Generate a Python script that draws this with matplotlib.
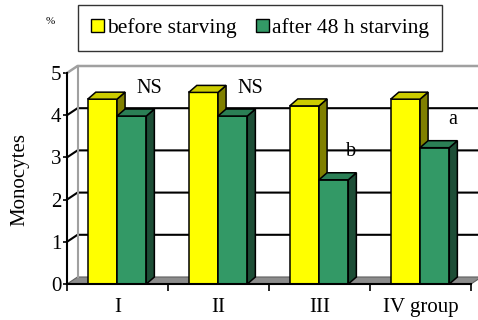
import matplotlib.pyplot as plt
from matplotlib.patches import Polygon, Patch

plt.rcParams['font.family'] = ['Liberation Serif', 'DejaVu Serif']

# group means, % monocytes
groups = ["I", "II", "III", "IV group"]
before = [4.38, 4.54, 4.22, 4.38]
after = [3.98, 3.98, 2.47, 3.23]
marks = ["NS", "NS", "b", "a"]
series = ["before starving", "after 48 h starving"]

# face colours: front, side, top
YELLOW = ("#FFFF00", "#808000", "#CCCC00")
GREEN = ("#339966", "#1D4E36", "#2B7F55")

# depth of the walls and of the bars, in data units
WX, WY = 0.104, 0.166
BX, BY = 0.080, 0.166
BW = 0.29


def bar3d(ax, x0, h, cols):
    x1 = x0 + BW
    front = Polygon([(x0, 0), (x1, 0), (x1, h), (x0, h)])
    side = Polygon([(x1, 0), (x1 + BX, BY), (x1 + BX, h + BY), (x1, h)])
    top = Polygon([(x0, h), (x1, h), (x1 + BX, h + BY), (x0 + BX, h + BY)])
    for p, c in zip((front, side, top), cols):
        p.set_facecolor(c)
        p.set_edgecolor("black")
        p.set_linewidth(1.1)
        p.set_joinstyle("miter")
        p.set_clip_on(False)
        p.set_zorder(5)
        ax.add_patch(p)


fig = plt.figure(figsize=(4.78, 3.2), dpi=100)
ax = fig.add_axes([67 / 478, 36 / 320, 404 / 478, 211 / 320])
ax.set_xlim(0, 4)
ax.set_ylim(0, 5)
for s in ("top", "right"):
    ax.spines[s].set_visible(False)
ax.spines["left"].set_linewidth(1.5)
ax.spines["bottom"].set_linewidth(1.5)
ax.spines["left"].set_zorder(6)
ax.spines["bottom"].set_zorder(6)

n = len(groups)

# floor and back wall
floor = Polygon([(0, 0), (n, 0), (n + WX, WY), (WX, WY)], facecolor="#8C8C8C",
                edgecolor="#606060", linewidth=0.8, clip_on=False, zorder=1)
ax.add_patch(floor)
for v in range(1, 5):
    ax.plot([0, WX, n + WX], [v, v + WY, v + WY], color="black", lw=1.5,
            clip_on=False, zorder=2, solid_joinstyle="miter")
ax.plot([0, WX, n + WX], [5, 5 + WY, 5 + WY], color="#A0A0A0", lw=1.8,
        clip_on=False, zorder=2)
ax.plot([WX, WX], [WY, 5 + WY], color="#A0A0A0", lw=1.5, clip_on=False, zorder=2)

for i in range(n):
    c = i + 0.495
    bar3d(ax, c - BW, before[i], YELLOW)
    bar3d(ax, c, after[i], GREEN)
    ax.text(c + BW * 1.1, after[i] + 0.66, marks[i], ha="center", va="center",
            fontsize=14.5, zorder=7)

ax.set_yticks(range(6))
ax.tick_params(axis="y", length=3, width=1.2, labelsize=15, pad=1)
ax.set_xticks(range(n + 1))
ax.set_xticklabels([])
ax.tick_params(axis="x", which="major", length=5, width=1.2, direction="out")
ax.set_xticks([i + 0.5 for i in range(n)], minor=True)
ax.set_xticklabels(groups, minor=True)
ax.tick_params(axis="x", which="minor", length=0, labelsize=15, pad=10)

ax.set_ylabel("Monocytes", fontsize=15)
ax.yaxis.set_label_coords(-38 / 404, 0.497)
fig.text(50 / 478, 1 - 22 / 320, "%", fontsize=8, ha="center", va="center")

handles = [Patch(facecolor=YELLOW[0], edgecolor="black"),
           Patch(facecolor=GREEN[0], edgecolor="black")]
fig.legend(handles, series, loc="center", bbox_to_anchor=(260 / 478, 1 - 28 / 320),
           ncol=2, fontsize=15.5, frameon=True, fancybox=False, edgecolor="black",
           handlelength=0.6, handleheight=0.6, handletextpad=0.15, columnspacing=0.9,
           borderpad=0.6, borderaxespad=0)

fig.savefig("out.png", dpi=100)
